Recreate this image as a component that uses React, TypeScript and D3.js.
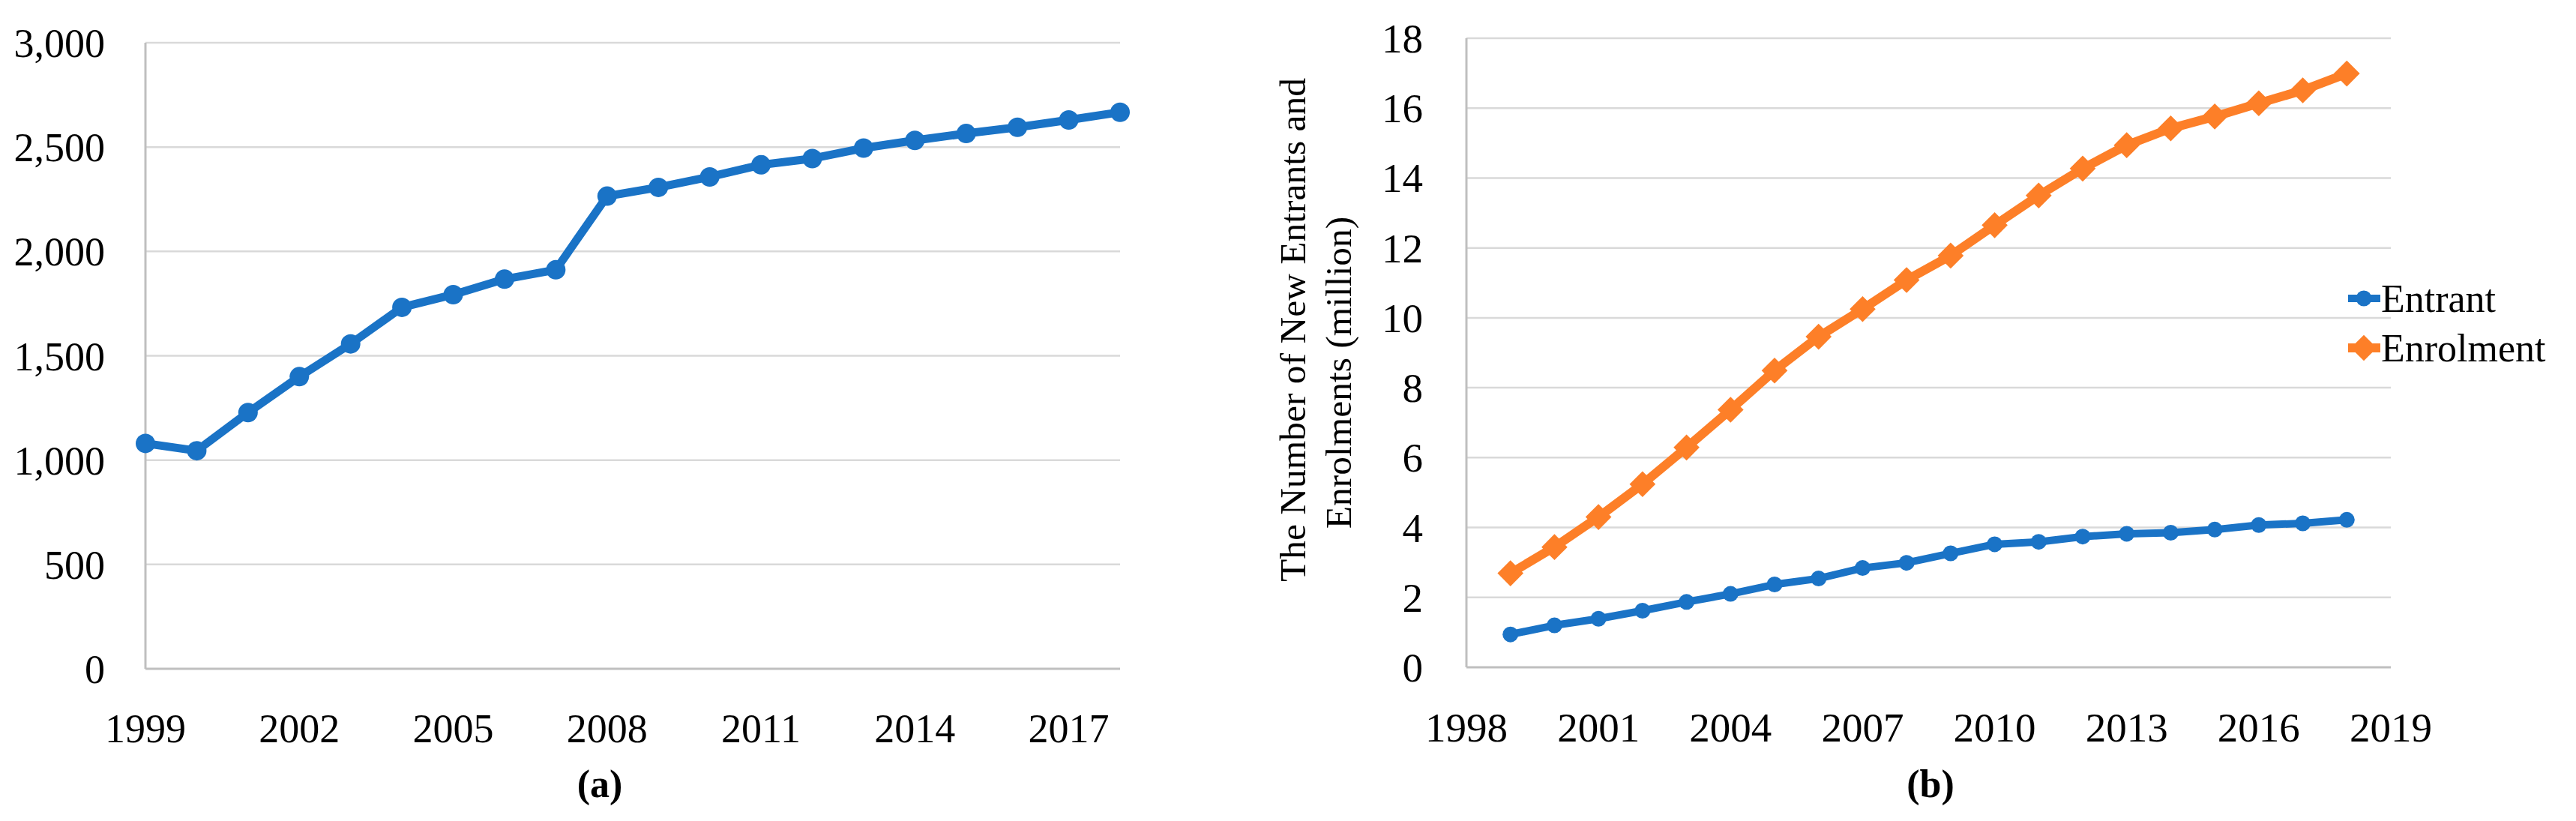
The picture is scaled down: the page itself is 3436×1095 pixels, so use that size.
import { useRef, useEffect } from "react";
import * as d3 from "d3";

// (a) yearly series
const yearsA = [1999, 2000, 2001, 2002, 2003, 2004, 2005, 2006, 2007, 2008, 2009, 2010, 2011, 2012, 2013, 2014, 2015, 2016, 2017, 2018];
const valuesA = [1080, 1045, 1228, 1400, 1557, 1732, 1793, 1867, 1912, 2265, 2307, 2357, 2415, 2445, 2495, 2532, 2565, 2595, 2630, 2667];
const yTicksA = [0, 500, 1000, 1500, 2000, 2500, 3000];
const xTicksA = [1999, 2002, 2005, 2008, 2011, 2014, 2017];

// (b) entrants and enrolments (million)
const yearsB = [1999, 2000, 2001, 2002, 2003, 2004, 2005, 2006, 2007, 2008, 2009, 2010, 2011, 2012, 2013, 2014, 2015, 2016, 2017, 2018];
const entrant = [0.94, 1.2, 1.39, 1.62, 1.87, 2.1, 2.37, 2.54, 2.84, 2.99, 3.26, 3.52, 3.59, 3.74, 3.82, 3.85, 3.94, 4.07, 4.12, 4.22];
const enrolment = [2.69, 3.44, 4.3, 5.24, 6.29, 7.37, 8.49, 9.46, 10.25, 11.08, 11.78, 12.65, 13.5, 14.27, 14.94, 15.42, 15.76, 16.14, 16.51, 16.99];
const yTicksB = [0, 2, 4, 6, 8, 10, 12, 14, 16, 18];
const xTicksB = [1998, 2001, 2004, 2007, 2010, 2013, 2016, 2019];
const seriesNames = ["Entrant", "Enrolment"];

const W = 3436;
const H = 1095;
const BLUE = "#1a73c6";
const ORANGE = "#fd7f28";
const GRID = "#d9d9d9";
const AXIS = "#bfbfbf";
const FONT = "'Liberation Serif', 'Times New Roman', serif";

const App = () => {
  const svgRef = useRef<SVGSVGElement | null>(null);

  useEffect(() => {
    if (!svgRef.current) return;
    const svg = d3.select(svgRef.current);
    svg.selectAll("*").remove();

    svg.append("rect").attr("width", W).attr("height", H).attr("fill", "#fff");

    // ---------- chart (a) ----------
    const ax = d3.scaleLinear().domain([1999, 2018]).range([194, 1494]);
    const ay = d3.scaleLinear().domain([0, 3000]).range([892, 57]);
    const ga = svg.append("g");

    ga.selectAll("line.grid")
      .data(yTicksA.filter((d) => d > 0))
      .join("line")
      .attr("x1", ax.range()[0])
      .attr("x2", ax.range()[1])
      .attr("y1", (d) => ay(d))
      .attr("y2", (d) => ay(d))
      .attr("stroke", GRID)
      .attr("stroke-width", 2.5);

    ga.append("line")
      .attr("x1", ax.range()[0]).attr("x2", ax.range()[1])
      .attr("y1", ay(0)).attr("y2", ay(0))
      .attr("stroke", AXIS).attr("stroke-width", 3);
    ga.append("line")
      .attr("x1", ax.range()[0]).attr("x2", ax.range()[0])
      .attr("y1", ay(0)).attr("y2", ay(3000))
      .attr("stroke", AXIS).attr("stroke-width", 3);

    const fmt = d3.format(",");
    ga.selectAll("text.yl")
      .data(yTicksA)
      .join("text")
      .attr("x", 140)
      .attr("y", (d) => ay(d) + 19)
      .attr("text-anchor", "end")
      .attr("font-family", FONT)
      .attr("font-size", 54)
      .text((d) => fmt(d));

    ga.selectAll("text.xl")
      .data(xTicksA)
      .join("text")
      .attr("x", (d) => ax(d))
      .attr("y", 990)
      .attr("text-anchor", "middle")
      .attr("font-family", FONT)
      .attr("font-size", 54)
      .text((d) => String(d));

    const lineA = d3
      .line<number>()
      .x((_, i) => ax(yearsA[i]))
      .y((d) => ay(d));
    ga.append("path")
      .datum(valuesA)
      .attr("fill", "none")
      .attr("stroke", BLUE)
      .attr("stroke-width", 11)
      .attr("stroke-linejoin", "round")
      .attr("d", lineA);
    ga.selectAll("circle")
      .data(valuesA)
      .join("circle")
      .attr("cx", (_, i) => ax(yearsA[i]))
      .attr("cy", (d) => ay(d))
      .attr("r", 13)
      .attr("fill", BLUE);

    ga.append("text")
      .attr("x", 800)
      .attr("y", 1063)
      .attr("text-anchor", "middle")
      .attr("font-family", FONT)
      .attr("font-weight", "bold")
      .attr("font-size", 52)
      .text("(a)");

    // ---------- chart (b) ----------
    const bx = d3.scaleLinear().domain([1998, 2019]).range([1956, 3189]);
    const by = d3.scaleLinear().domain([0, 18]).range([890, 51]);
    const gb = svg.append("g");

    gb.selectAll("line.grid")
      .data(yTicksB.filter((d) => d > 0))
      .join("line")
      .attr("x1", bx.range()[0])
      .attr("x2", bx.range()[1])
      .attr("y1", (d) => by(d))
      .attr("y2", (d) => by(d))
      .attr("stroke", GRID)
      .attr("stroke-width", 2.5);

    gb.append("line")
      .attr("x1", bx.range()[0]).attr("x2", bx.range()[1])
      .attr("y1", by(0)).attr("y2", by(0))
      .attr("stroke", AXIS).attr("stroke-width", 3);
    gb.append("line")
      .attr("x1", bx.range()[0]).attr("x2", bx.range()[0])
      .attr("y1", by(0)).attr("y2", by(18))
      .attr("stroke", AXIS).attr("stroke-width", 3);

    gb.selectAll("text.yl")
      .data(yTicksB)
      .join("text")
      .attr("x", 1898)
      .attr("y", (d) => by(d) + 19)
      .attr("text-anchor", "end")
      .attr("font-family", FONT)
      .attr("font-size", 55)
      .text((d) => String(d));

    gb.selectAll("text.xl")
      .data(xTicksB)
      .join("text")
      .attr("x", (d) => bx(d))
      .attr("y", 989)
      .attr("text-anchor", "middle")
      .attr("font-family", FONT)
      .attr("font-size", 55)
      .text((d) => String(d));

    const lineB = d3
      .line<number>()
      .x((_, i) => bx(yearsB[i]))
      .y((d) => by(d));

    const diamond = d3.symbol().type(d3.symbolSquare).size(600);

    gb.append("path")
      .datum(enrolment)
      .attr("fill", "none")
      .attr("stroke", ORANGE)
      .attr("stroke-width", 12)
      .attr("stroke-linejoin", "round")
      .attr("d", lineB);
    gb.selectAll("path.dia")
      .data(enrolment)
      .join("path")
      .attr("transform", (d, i) => `translate(${bx(yearsB[i])},${by(d)}) rotate(45)`)
      .attr("d", diamond() as string)
      .attr("fill", ORANGE);

    gb.append("path")
      .datum(entrant)
      .attr("fill", "none")
      .attr("stroke", BLUE)
      .attr("stroke-width", 10)
      .attr("stroke-linejoin", "round")
      .attr("d", lineB);
    gb.selectAll("circle")
      .data(entrant)
      .join("circle")
      .attr("cx", (_, i) => bx(yearsB[i]))
      .attr("cy", (d) => by(d))
      .attr("r", 10.5)
      .attr("fill", BLUE);

    // y axis title
    const titleLines = ["The Number of New Entrants and", "Enrolments (million)"];
    const titleCenters = [440, 497];
    gb.selectAll("text.title")
      .data(titleLines)
      .join("text")
      .attr("transform", (_, i) => `translate(${1741 + i * 61},${titleCenters[i]}) rotate(-90)`)
      .attr("text-anchor", "middle")
      .attr("font-family", FONT)
      .attr("font-size", 49.5)
      .text((d) => d);

    // legend
    const legend = gb.append("g");
    seriesNames.forEach((name, i) => {
      const cy = 398 + i * 66;
      const color = i === 0 ? BLUE : ORANGE;
      legend.append("line")
        .attr("x1", 3132).attr("x2", 3175)
        .attr("y1", cy).attr("y2", cy)
        .attr("stroke", color)
        .attr("stroke-width", i === 0 ? 10 : 12);
      if (i === 0) {
        legend.append("circle").attr("cx", 3153).attr("cy", cy).attr("r", 10.5).attr("fill", color);
      } else {
        legend.append("path")
          .attr("transform", `translate(3153,${cy}) rotate(45)`)
          .attr("d", diamond() as string)
          .attr("fill", color);
      }
      legend.append("text")
        .attr("x", 3176)
        .attr("y", cy + 18)
        .attr("font-family", FONT)
        .attr("font-size", 52)
        .text(name);
    });

    gb.append("text")
      .attr("x", 2575)
      .attr("y", 1063)
      .attr("text-anchor", "middle")
      .attr("font-family", FONT)
      .attr("font-weight", "bold")
      .attr("font-size", 52)
      .text("(b)");
  }, []);

  return (
    <svg
      ref={svgRef}
      width={W}
      height={H}
      style={{ position: "absolute", left: 0, top: 0, display: "block" }}
    ></svg>
  );
};

export default App;
